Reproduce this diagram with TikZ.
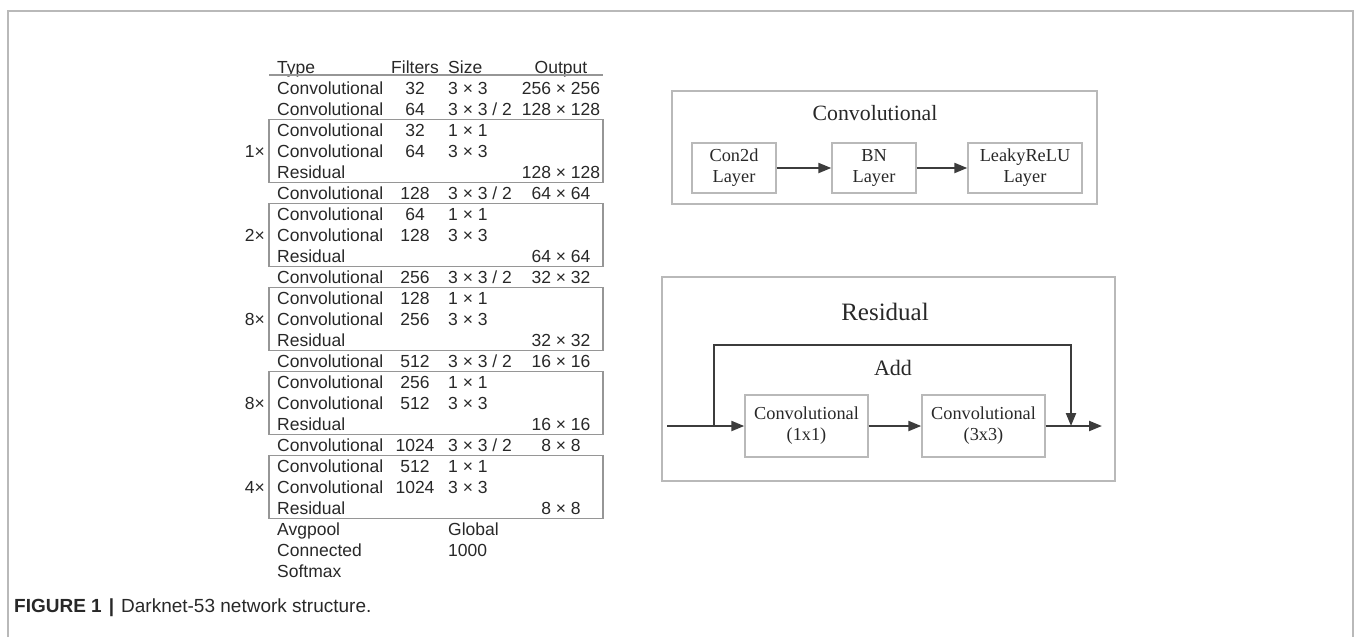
\documentclass[tikz,border=0pt]{standalone}
\usepackage{fontspec}
\setmainfont{Liberation Sans}
\newfontfamily\romfont{Liberation Serif}
\usepackage{tikz}
\usetikzlibrary{arrows.meta}

\definecolor{boxgray}{RGB}{185,185,185}
\definecolor{linegray}{RGB}{60,60,60}
\definecolor{tabgray}{RGB}{150,150,150}
\definecolor{txtgray}{RGB}{40,40,40}

\tikzset{
  tab/.style={inner sep=0pt, text height=12.6pt, text depth=0pt, text=txtgray,
    font=\fontsize{17.5}{21}\selectfont},
  tabbox/.style={draw=tabgray, line width=1.3pt},
  layer/.style={draw=boxgray, line width=1.4pt, inner sep=0pt, align=center,
    text=txtgray, font=\romfont\fontsize{18.3}{21}\selectfont},
  frame/.style={draw=boxgray, line width=1.5pt},
  arr/.style={draw=linegray, line width=2.2pt, -{Triangle[length=13pt,width=10pt]}},
}

\begin{document}
\begin{tikzpicture}[x=1pt,y=-1pt]
  \useasboundingbox (0,0) rectangle (1356,637);
  \draw[frame] (8,637) -- (8,11) -- (1353,11) -- (1353,637);

  % Darknet-53 table
  \node[tab, anchor=west] (htype) at (277,67) {Type};
  \node[tab]              (hfilt) at (415,67) {Filters};
  \node[tab, anchor=west] (hsize) at (448,67) {Size};
  \node[tab]              (hout)  at (561,67) {Output};
  \draw[tabbox] (269,75) -- (603,75);

  \foreach \r/\t/\f/\s/\o in {
      1/Convolutional/32/{3 × 3}/{256 × 256},
      2/Convolutional/64/{3 × 3 / 2}/{128 × 128},
      3/Convolutional/32/{1 × 1}/{},
      4/Convolutional/64/{3 × 3}/{},
      5/Residual/{}/{}/{128 × 128},
      6/Convolutional/128/{3 × 3 / 2}/{64 × 64},
      7/Convolutional/64/{1 × 1}/{},
      8/Convolutional/128/{3 × 3}/{},
      9/Residual/{}/{}/{64 × 64},
      10/Convolutional/256/{3 × 3 / 2}/{32 × 32},
      11/Convolutional/128/{1 × 1}/{},
      12/Convolutional/256/{3 × 3}/{},
      13/Residual/{}/{}/{32 × 32},
      14/Convolutional/512/{3 × 3 / 2}/{16 × 16},
      15/Convolutional/256/{1 × 1}/{},
      16/Convolutional/512/{3 × 3}/{},
      17/Residual/{}/{}/{16 × 16},
      18/Convolutional/1024/{3 × 3 / 2}/{8 × 8},
      19/Convolutional/512/{1 × 1}/{},
      20/Convolutional/1024/{3 × 3}/{},
      21/Residual/{}/{}/{8 × 8},
      22/Avgpool/{}/Global/{},
      23/Connected/{}/1000/{},
      24/Softmax/{}/{}/{}}
  {
    \node[tab, anchor=west] (t\r) at (277,67+21*\r) {\t};
    \node[tab]              (f\r) at (415,67+21*\r) {\f};
    \node[tab, anchor=west] (s\r) at (448,67+21*\r) {\s};
    \node[tab]              (o\r) at (561,67+21*\r) {\o};
  }

  % repeated blocks
  \foreach \a/\m in {3/1,7/2,11/8,15/8,19/4}
  {
    \draw[tabbox] (269,67+21*\a-10.5) rectangle (603,67+21*\a+52.5);
    \node[tab, anchor=east] (rep\a) at (265,67+21*\a+21) {\m×};
  }

  % Convolutional block
  \draw[frame] (672,91) rectangle (1097,204);
  \node[text=txtgray, font=\romfont\fontsize{21.8}{24}\selectfont] (convtitle) at (875,113) {Convolutional};
  \node[layer, minimum width=84pt,  minimum height=50pt] (con2d) at (734,168)  {Con2d\\Layer};
  \node[layer, minimum width=84pt,  minimum height=50pt] (bn)    at (874,168)  {BN\\Layer};
  \node[layer, minimum width=114pt, minimum height=50pt] (leaky) at (1025,168) {LeakyReLU\\Layer};
  \draw[arr] (con2d) -- (bn);
  \draw[arr] (bn) -- (leaky);

  % Residual block
  \draw[frame] (662,277) rectangle (1115,481);
  \node[text=txtgray, font=\romfont\fontsize{25}{28}\selectfont] (restitle) at (885,312) {Residual};
  \node[text=txtgray, font=\romfont\fontsize{22}{24}\selectfont] (add) at (893,368) {Add};
  \node[layer, minimum width=123pt, minimum height=62pt] (c1) at (806.5,426) {Convolutional\\(1x1)};
  \node[layer, minimum width=123pt, minimum height=62pt] (c3) at (983.5,426) {Convolutional\\(3x3)};
  \coordinate (resin)  at (667,426);
  \coordinate (split)  at (714,426);
  \coordinate (addtop) at (1071,345);
  \coordinate (join)   at (1071,426);
  \coordinate (resout) at (1102,426);
  \draw[arr] (resin) -- (c1);
  \draw[arr] (c1) -- (c3);
  \draw[arr] (c3) -- (resout);
  \draw[arr] (split) |- (addtop) -- (join);

  % caption
  \node[anchor=west, inner sep=0pt, text=txtgray, font=\fontsize{19}{22}\selectfont] (caption) at (14,608)
    {\textbf{FIGURE 1}\hspace{7pt}\textbf{|}\hspace{7pt}Darknet-53 network structure.};
\end{tikzpicture}
\end{document}
